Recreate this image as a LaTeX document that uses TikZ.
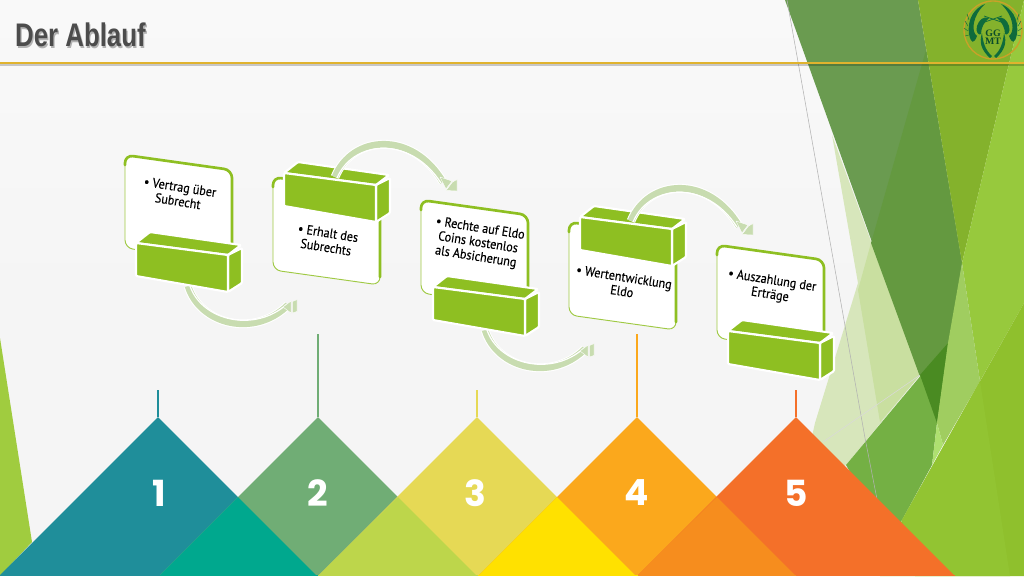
\documentclass[tikz,border=0pt]{standalone}
\usepackage{fontspec}
\setmainfont{PT Sans}
\newfontfamily\numfont{Poppins}
\newfontfamily\titlefont{Liberation Sans}
\newfontfamily\logofont{Liberation Serif}
\definecolor{bggrey}{HTML}{F5F5F5}
\definecolor{bgtop}{HTML}{F9F9F9}
\definecolor{blockgreen}{HTML}{8EBF22}
\definecolor{armgreen}{HTML}{C8DCB0}
\definecolor{goldline}{HTML}{E0B32E}
\definecolor{logogreen}{HTML}{0E6B3C}
\definecolor{tealA}{HTML}{1F8E9A}
\definecolor{tealB}{HTML}{00A88E}
\definecolor{greenA}{HTML}{70AD75}
\definecolor{limeB}{HTML}{BDD64B}
\definecolor{yellA}{HTML}{E6D955}
\definecolor{yellB}{HTML}{FFE100}
\definecolor{orA}{HTML}{FBA81C}
\definecolor{orB}{HTML}{F68D1E}
\definecolor{redA}{HTML}{F47029}
\tikzset{
  cardfill/.style={fill=white,draw=blockgreen!85!white,line width=.7pt,rounded corners=6pt},
  cardedge/.style={draw=blockgreen,line width=2pt,rounded corners=6pt,line cap=round},
  blockface/.style={fill=blockgreen,draw=white,line width=1.6pt,line join=round,rounded corners=.8pt},
  cardtext/.style={font=\fontsize{10}{10.8}\selectfont\addfontfeature{FakeBold=0.25,FakeStretch=0.91},text=black,align=center,rotate=-9,inner sep=0pt},
  numtext/.style={font=\numfont\bfseries\fontsize{27}{27}\selectfont,text=white,inner sep=0pt},
  titletext/.style={font=\titlefont\bfseries\fontsize{24.5}{25}\selectfont,anchor=west,inner sep=0pt,xscale=.79},
  armhalo/.style={draw=white,line width=6.6pt},
  armbody/.style={draw=armgreen,line width=5pt},
  armslit/.style={draw=white,line width=.9pt},
  armtip/.style={fill=armgreen,draw=white,line width=.3pt,line join=round},
  stem/.style={line width=1.2pt},
}
\newcommand{\cardshape}[2]{%
  \begin{scope}[shift={(#1,#2)}]
    \path[cardfill] (0,40) -- (0,0) -- (107,15) -- (107,108) -- (0,93) -- cycle;
    \path[cardedge] (0,10) -- (0,0) -- (107,15) -- (107,100);
  \end{scope}}
\newcommand{\blocktop}[2]{%
  \begin{scope}[shift={(#1,#2)}]
    \path[blockface] (0,0) -- (14,-11) -- (105,2) -- (92,12) -- cycle;
  \end{scope}}
\newcommand{\blockfront}[2]{%
  \begin{scope}[shift={(#1,#2)}]
    \path[blockface] (92,12) -- (106,5) -- (106,40) -- (92,49) -- cycle;
    \path[blockface] (0,0) -- (92,12) -- (92,49) -- (0,33) -- cycle;
  \end{scope}}
\newcommand{\lowerarrow}[2]{%
  \begin{scope}[shift={(#1,#2)}]
    \coordinate (#1s) at (188,286);
    \coordinate (#1e) at (288,305);
    \path[armhalo] (#1s) .. controls (200,325) and (255,338) .. (#1e);
    \path[armbody] (#1s) .. controls (200,325) and (255,338) .. (#1e);
    \path[armslit] (190,286) .. controls (202,321) and (255,333) .. (287,304);
    \path[armtip] (283,307) -- (291,301) -- (291,313) -- cycle;
    \path[armtip] (292.5,301.5) -- (297,299.5) -- (297,311.5) -- (292.5,313) -- cycle;
  \end{scope}}
\newcommand{\upperarrow}[2]{%
  \begin{scope}[shift={(#1,#2)}]
    \coordinate (#1s) at (335,177);
    \coordinate (#1e) at (443,182);
    \path[armhalo] (#1s) .. controls (352,135) and (412,130) .. (#1e);
    \path[armbody] (#1s) .. controls (352,135) and (412,130) .. (#1e);
    \path[armslit] (337,178) .. controls (353,140) and (410,135) .. (441,183);
    \path[armtip] (440,177) -- (452,181) -- (446,189) -- cycle;
    \path[armtip] (452.5,182) -- (457,179.5) -- (457,191) -- (446,190.5) -- cycle;
  \end{scope}}
\begin{document}
\begin{tikzpicture}[x=.75pt,y=-.75pt]
\useasboundingbox (0,0) rectangle (1024,576);
\fill[top color=bgtop,bottom color=bggrey] (0,0) rectangle (1024,300);
\fill[bggrey] (0,300) rectangle (1024,576);

% facets on the right
\fill[fill={rgb,255:red,215;green,230;blue,187}] (832,135) -- (920,375) -- (846,465) -- (800,490) -- (815,423) -- (858,283) -- cycle;
\fill[fill={rgb,255:red,201;green,223;blue,160}] (871,243) -- (920,375) -- (880,422) -- (858,290) -- cycle;
\fill[fill={rgb,255:red,106;green,155;blue,80}] (785,0) -- (918,0) -- (962,263) -- (937,423) -- cycle;
\fill[fill={rgb,255:red,100;green,153;blue,64}] (926,50) -- (962,263) -- (937,423) -- (871,243) -- cycle;
\fill[fill={rgb,255:red,132;green,178;blue,44}] (918,0) -- (1024,0) -- (962,263) -- cycle;
\fill[fill={rgb,255:red,151;green,201;blue,61}] (1024,0) -- (962,263) -- (980,381) -- (1024,303) -- cycle;
\fill[fill={rgb,255:red,116;green,176;blue,68}] (846,465) -- (948,343) -- (937,423) -- (932,465) -- (902,520) -- (890,540) -- cycle;
\fill[fill={rgb,255:red,74;green,139;blue,34}] (920,375) -- (948,343) -- (937,423) -- cycle;
\fill[fill={rgb,255:red,160;green,205;blue,96}] (962,263) -- (980,381) -- (943,445) -- (937,423) -- (948,343) -- cycle;
\fill[fill={rgb,255:red,174;green,224;blue,112}] (937,423) -- (943,445) -- (932,465) -- cycle;
\fill[fill={rgb,255:red,143;green,192;blue,45}] (1024,303) -- (902,520) -- (880,576) -- (1024,576) -- cycle;
\fill[fill={rgb,255:red,146;green,196;blue,50}] (980,381) -- (1010,576) -- (915,576) -- (902,520) -- cycle;
\draw[black!30,line width=.4pt] (787,0) -- (865,438) -- (885,540);
\draw[black!15,line width=.4pt] (823,442) -- (920,375);

% wedge on the left
\fill[fill={rgb,255:red,160;green,204;blue,63}] (0,338) -- (32,542) -- (0,576) -- cycle;

% title and rule
\node[titletext,text=black!30] (titleshadow) at (16.2,36.8) {Der Ablauf};
\node[titletext,text=black!70] (title) at (15,35) {Der Ablauf};
\coordinate (ruleL) at (0,63);
\coordinate (ruleR) at (1024,63);
\draw[black,opacity=.2,line width=1.5pt] ([yshift=-1.6pt]ruleL) -- ([yshift=-1.6pt]ruleR);
\draw[goldline,line width=1.4pt] (ruleL) -- (ruleR);

% logo
\begin{scope}[shift={(993,30)}]
  \draw[goldline!90!black,line width=1pt] (0,0) circle (29);
  \foreach \s in {1,-1}{
    \begin{scope}[xscale=\s]
      \fill[logogreen] (-3,28) .. controls (-12,20) and (-14,12) .. (-11,3) .. controls (-10,12) and (-8,20) .. (-1,26) -- cycle;
      \fill[logogreen] (-4,-12) .. controls (-10,-14) and (-14,-10) .. (-16,-4) .. controls (-18,2) and (-14,6) .. (-12,4) .. controls (-12,-2) and (-9,-8) .. (-4,-12) -- cycle;
      \fill[logogreen] (-8,-26) .. controls (-18,-22) and (-26,-12) .. (-24,4) .. controls (-22,14) and (-19,14) .. (-16,6) .. controls (-22,2) and (-21,-14) .. (-8,-26) -- cycle;
      \draw[logogreen,line width=.55pt] (-9,-14) -- (11,-7);
      \draw[logogreen,line width=.35pt] (-25,-4) -- (-28,-9) (-25,1) -- (-29,-2) (-24,5) -- (-28,6) (-24,-10) -- (-26,-16);
    \end{scope}}
\end{scope}
\node[font=\logofont\bfseries\fontsize{7.4}{6.2}\selectfont,text=logogreen!70!black,align=center,inner sep=0pt] (logotext) at (993,37) {GG\\MT};

% cards, blocks, arrows
\cardshape{125}{155}
\cardshape{273}{177}
\cardshape{421}{200}
\cardshape{569}{222}
\cardshape{717}{245}
\blocktop{136}{243}
\blocktop{284}{173}
\blocktop{433}{287}
\blocktop{580}{217}
\blocktop{728}{331}
\lowerarrow{0}{0}
\upperarrow{0}{0}
\lowerarrow{297}{44}
\upperarrow{296}{44}
\blockfront{136}{243}
\blockfront{284}{173}
\blockfront{433}{287}
\blockfront{580}{217}
\blockfront{728}{331}
\node[cardtext] (t1) at (179,194) {• Vertrag über\\Subrecht};
\node[cardtext] (t2) at (327,240) {• Erhalt des\\Subrechts};
\node[cardtext] (t3) at (478,243) {• Rechte auf Eldo\\Coins kostenlos\\als Absicherung};
\node[cardtext] (t4) at (623,284) {• Wertentwicklung\\Eldo};
\node[cardtext] (t5) at (771,288) {• Auszahlung der\\Erträge};

% mountains
\fill[tealA] (158,417) -- (0,575) -- (316,575) -- cycle;
\fill[greenA] (318,417) -- (160,575) -- (476,575) -- cycle;
\fill[tealB] (238,497) -- (160,575) -- (316,575) -- cycle;
\fill[yellA] (477,417) -- (319,575) -- (635,575) -- cycle;
\fill[limeB] (398,497) -- (319,575) -- (476,575) -- cycle;
\fill[orA] (637,417) -- (479,575) -- (795,575) -- cycle;
\fill[yellB] (557,497) -- (479,575) -- (635,575) -- cycle;
\fill[redA] (796,417) -- (638,575) -- (954,575) -- cycle;
\fill[orB] (717,497) -- (638,575) -- (795,575) -- cycle;
\fill[tealA] (0,575) rectangle (160,576);
\fill[tealB] (160,575) rectangle (318,576);
\fill[limeB] (318,575) rectangle (478,576);
\fill[yellB] (478,575) rectangle (638,576);
\fill[orB] (638,575) rectangle (796,576);
\fill[redA] (796,575) rectangle (955,576);
\coordinate (peak1) at (158,417);
\coordinate (peak2) at (318,417);
\coordinate (peak3) at (477,417);
\coordinate (peak4) at (637,417);
\coordinate (peak5) at (796,417);
\draw[stem,tealA] (peak1) -- ++(0,-27);
\draw[stem,greenA] (peak2) -- ++(0,-83);
\draw[stem,yellA] (peak3) -- ++(0,-27);
\draw[stem,orA] (peak4) -- ++(0,-83);
\draw[stem,redA] (peak5) -- ++(0,-27);
\node[numtext] (n1) at (159,493) {1};
\node[numtext] (n2) at (318,493) {2};
\node[numtext] (n3) at (475,493) {3};
\node[numtext] (n4) at (637,493) {4};
\node[numtext] (n5) at (796,493) {5};
\end{tikzpicture}
\end{document}
